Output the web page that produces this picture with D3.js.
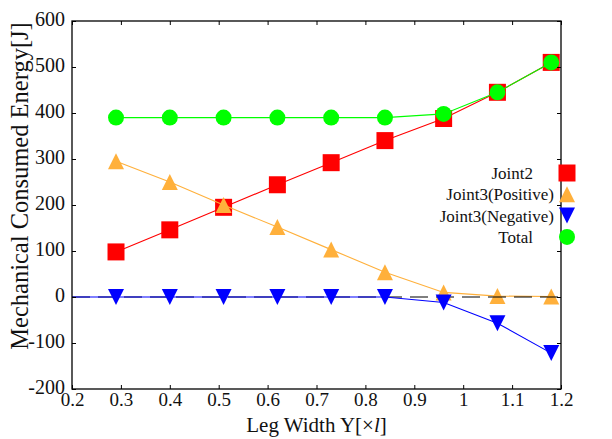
<!DOCTYPE html>
<html>
<head>
<meta charset="utf-8">
<script src="https://cdn.jsdelivr.net/npm/d3@7"></script>
<style>
  body { margin: 0; background: #fff; }
  svg { display: block; }
</style>
</head>
<body>
<script>
const legWidth = [0.29, 0.40, 0.51, 0.62, 0.73, 0.84, 0.96, 1.07, 1.18];
const joint2 = [98, 146, 195, 244, 292, 340, 388, 445, 510];
const joint3Pos = [295, 250, 200, 152, 103, 54, 10, 2, 1];
const joint3Neg = [0, 0, 0, 0, 0, 0, -12, -57, -122];
const total = [390, 390, 390, 390, 390, 390, 398, 445, 510];

const xTicks = [0.2, 0.3, 0.4, 0.5, 0.6, 0.7, 0.8, 0.9, 1, 1.1, 1.2];
const yTicks = [-200, -100, 0, 100, 200, 300, 400, 500, 600];

const width = 612;
const height = 439;
const margin = { top: 21, right: 51, bottom: 50, left: 72 };
const font = "'Liberation Serif', 'Times New Roman', serif";

const series = [
  { name: "Joint2", values: joint2, color: "#ff0000", shape: d3.symbolSquare },
  { name: "Joint3(Positive)", values: joint3Pos, color: "#ffb03b", shape: "up" },
  { name: "Joint3(Negative)", values: joint3Neg, color: "#0000ff", shape: "down" },
  { name: "Total", values: total, color: "#00ff00", shape: d3.symbolCircle },
];

const xScale = d3
  .scaleLinear()
  .domain([0.2, 1.2])
  .range([margin.left, width - margin.right]);

const yScale = d3
  .scaleLinear()
  .domain([-200, 600])
  .range([height - margin.bottom, margin.top]);

const svg = d3
  .select("body")
  .append("svg")
  .attr("width", width)
  .attr("height", height);

// triangle path centred on its bounding box, like matplotlib markers
const marker = (shape, size) => {
  const h = size / 2;
  if (shape === "up") return `M0,${-h}L${h},${h}L${-h},${h}Z`;
  if (shape === "down") return `M0,${h}L${h},${-h}L${-h},${-h}Z`;
  if (shape === d3.symbolSquare) return d3.symbol(shape, size * size)();
  return d3.symbol(shape, Math.PI * h * h)();
};
const markerSize = (s) => (s.shape === d3.symbolSquare ? 17 : 16);

const line = d3
  .line()
  .x((d) => xScale(d[0]))
  .y((d) => yScale(d[1]));

const plot = svg.append("g");

const drawSeries = (s) => {
  let pts = legWidth.map((x, i) => [x, s.values[i]]);
  if (s.shape === "down") pts = [[xScale.domain()[0], 0], ...pts];
  plot
    .append("path")
    .attr("d", line(pts))
    .attr("fill", "none")
    .attr("stroke", s.color)
    .attr("stroke-width", 1.1);
  plot
    .append("g")
    .selectAll("path")
    .data(legWidth.map((x, i) => [x, s.values[i]]))
    .join("path")
    .attr("transform", (d) => `translate(${xScale(d[0])},${yScale(d[1])})`)
    .attr("d", marker(s.shape, markerSize(s)))
    .attr("fill", s.color);
};

drawSeries(series[0]);
drawSeries(series[1]);

// zero reference line
plot
  .append("line")
  .attr("x1", xScale.range()[0])
  .attr("x2", xScale.range()[1])
  .attr("y1", yScale(0))
  .attr("y2", yScale(0))
  .attr("stroke", "#000")
  .attr("stroke-width", 1.1)
  .attr("stroke-dasharray", "18,8");

drawSeries(series[2]);
drawSeries(series[3]);

// frame and inward ticks on all four sides
const axisGroup = svg.append("g");
const [x0, x1] = xScale.range();
const [y0, y1] = yScale.range();

axisGroup
  .append("rect")
  .attr("x", x0)
  .attr("y", y1)
  .attr("width", x1 - x0)
  .attr("height", y0 - y1)
  .attr("fill", "none")
  .attr("stroke", "#000")
  .attr("stroke-width", 1.3);

const xAxis = d3.axisBottom(xScale).tickValues(xTicks).tickSize(-4).tickPadding(3).tickFormat(d3.format("~g"));
const xAxisTop = d3.axisTop(xScale).tickValues(xTicks).tickSize(-4).tickFormat("");
const yAxis = d3.axisLeft(yScale).tickValues(yTicks).tickSize(-4).tickPadding(7).tickFormat((d) => (d < 0 ? "-" + Math.abs(d) : d));
const yAxisRight = d3.axisRight(yScale).tickValues(yTicks).tickSize(-4).tickFormat("");

const gx = axisGroup.append("g").attr("transform", `translate(0,${y0})`).call(xAxis);
axisGroup.append("g").attr("transform", `translate(0,${y1})`).call(xAxisTop);
const gy = axisGroup.append("g").attr("transform", `translate(${x0},0)`).call(yAxis);
axisGroup.append("g").attr("transform", `translate(${x1},0)`).call(yAxisRight);

axisGroup.selectAll(".domain").remove();
axisGroup.selectAll(".tick line").attr("stroke", "#000").attr("stroke-width", 1);

gx.selectAll("text")
  .attr("font-family", font)
  .attr("font-size", 19)
  .attr("fill", "#111");

gy.selectAll("text")
  .attr("font-family", font)
  .attr("font-size", 20)
  .attr("fill", "#111")
  .attr("dx", 0)
  .attr("dy", "0.2em");

// axis titles
svg
  .append("text")
  .attr("x", (x0 + x1) / 2)
  .attr("y", 432)
  .attr("text-anchor", "middle")
  .attr("font-family", font)
  .attr("font-size", 21)
  .attr("fill", "#111")
  .html("Leg Width Y[×<tspan font-style='italic'>l</tspan>]");

svg
  .append("text")
  .attr("transform", `translate(28,186) rotate(-90)`)
  .attr("text-anchor", "middle")
  .attr("font-family", font)
  .attr("font-size", 24.5)
  .attr("fill", "#111")
  .text("Mechanical Consumed Energy[J]");

// legend, markers to the right of the labels
const legend = svg
  .append("g")
  .selectAll("g")
  .data(series)
  .join("g")
  .attr("transform", (d, i) => `translate(567,${173 + i * 21.3})`);

legend
  .append("path")
  .attr("d", (d) => marker(d.shape, markerSize(d)))
  .attr("fill", (d) => d.color);

legend
  .append("text")
  .attr("x", (d) => (d.name.length > 10 ? -13 : -34))
  .attr("y", 6)
  .attr("text-anchor", "end")
  .attr("font-family", font)
  .attr("font-size", 17)
  .attr("fill", "#111")
  .text((d) => d.name);
</script>
</body>
</html>
